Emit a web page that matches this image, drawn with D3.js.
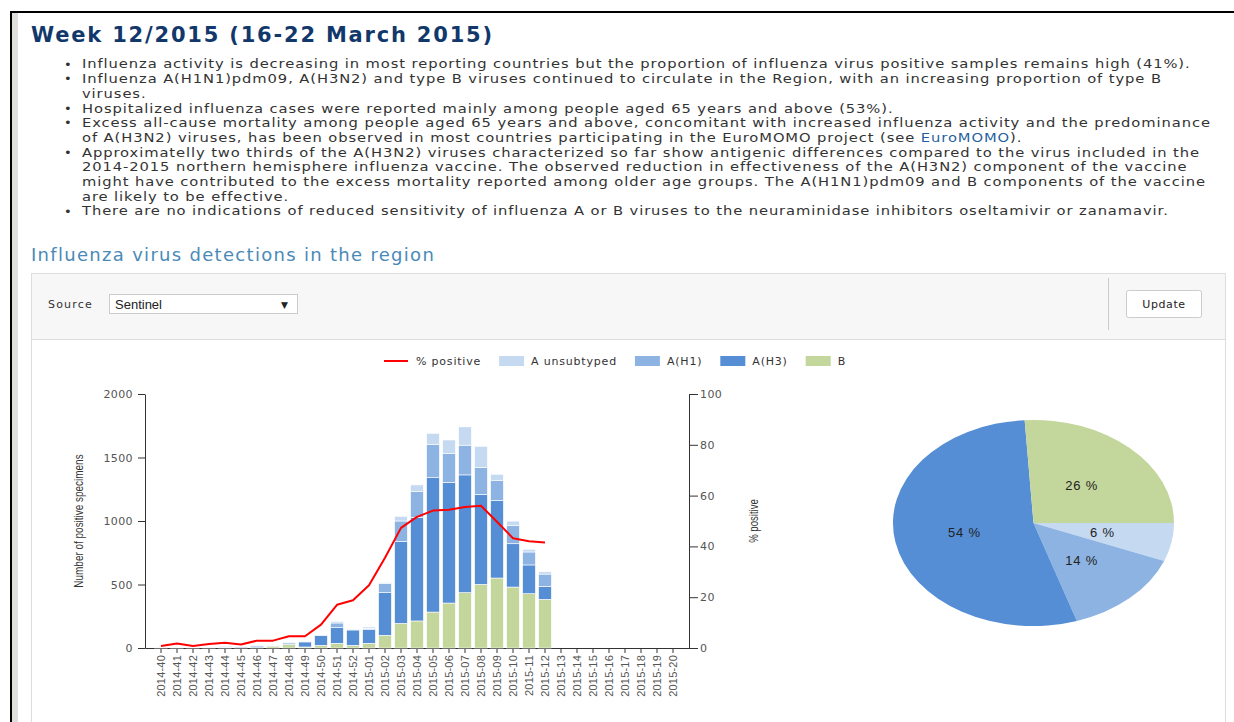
<!DOCTYPE html>
<html>
<head>
<meta charset="utf-8">
<script src="https://cdn.jsdelivr.net/npm/d3@7"></script>
<style>
  body { margin: 0; background: #fff; overflow: hidden; }
  svg { display: block; }
  .note { font-family: "DejaVu Sans", Verdana, sans-serif; font-size: 13px; fill: #333; letter-spacing: 0.8px; }
  .tick text { font-family: "DejaVu Sans", Verdana, sans-serif; font-size: 11px; fill: #555; letter-spacing: 0.4px; }
  .legend text { font-family: "DejaVu Sans", Verdana, sans-serif; font-size: 11px; fill: #333; letter-spacing: 0.8px; }
</style>
</head>
<body>
<svg id="page" width="1234" height="722"></svg>
<script>
// ---- data ----
const weeks = [
  "2014-40","2014-41","2014-42","2014-43","2014-44","2014-45","2014-46","2014-47",
  "2014-48","2014-49","2014-50","2014-51","2014-52","2015-01","2015-02","2015-03",
  "2015-04","2015-05","2015-06","2015-07","2015-08","2015-09","2015-10","2015-11",
  "2015-12","2015-13","2015-14","2015-15","2015-16","2015-17","2015-18","2015-19","2015-20"
];
const bValues     = [0,0,0,0,2,0,3,15,29,8,21,37,21,37,100,194,213,283,354,436,501,551,480,428,383];
const h3Values    = [3,2,4,4,4,8,12,3,10,40,76,123,121,108,336,646,816,1058,950,927,709,612,341,226,102];
const h1Values    = [0,0,0,0,5,1,4,5,5,3,5,37,6,10,71,160,205,262,226,234,210,158,144,102,97];
const unsubValues = [2,1,1,1,5,1,2,5,3,2,3,13,2,10,8,37,50,87,108,144,168,47,34,21,18];
const pctPositive = [0.8,1.8,0.8,1.6,2.1,1.4,2.9,2.9,4.6,4.6,9.2,17.0,18.8,24.7,35.5,47.3,51.6,54.1,54.4,55.5,56.0,49.7,43.2,42.0,41.5];
const pieShare    = [6,14,54,26];           // A unsubtyped, A(H1), A(H3), B
const leftTicks   = [0,500,1000,1500,2000];
const rightTicks  = [0,20,40,60,80,100];

const seriesKeys  = ["unsub","h1","h3","b"];
const seriesNames = ["A unsubtyped","A(H1)","A(H3)","B"];
const colors = { unsub: "#c5d9f1", h1: "#8db3e2", h3: "#558ed5", b: "#c3d69b" };

const title = "Week 12/2015 (16-22 March 2015)";
const heading = "Influenza virus detections in the region";
const noteLines = [
  { bullet: true,  text: "Influenza activity is decreasing in most reporting countries but the proportion of influenza virus positive samples remains high (41%)." },
  { bullet: true,  text: "Influenza A(H1N1)pdm09, A(H3N2) and type B viruses continued to circulate in the Region, with an increasing proportion of type B" },
  { bullet: false, text: "viruses." },
  { bullet: true,  text: "Hospitalized influenza cases were reported mainly among people aged 65 years and above (53%)." },
  { bullet: true,  text: "Excess all-cause mortality among people aged 65 years and above, concomitant with increased influenza activity and the predominance" },
  { bullet: false, text: "of A(H3N2) viruses, has been observed in most countries participating in the EuroMOMO project (see ", link: "EuroMOMO", after: ")." },
  { bullet: true,  text: "Approximatelly two thirds of the A(H3N2) viruses characterized so far show antigenic differences compared to the virus included in the" },
  { bullet: false, text: "2014-2015 northern hemisphere influenza vaccine. The observed reduction in effectiveness of the A(H3N2) component of the vaccine" },
  { bullet: false, text: "might have contributed to the excess mortality reported among older age groups. The A(H1N1)pdm09 and B components of the vaccine" },
  { bullet: false, text: "are likely to be effective." },
  { bullet: true,  text: "There are no indications of reduced sensitivity of influenza A or B viruses to the neuraminidase inhibitors oseltamivir or zanamavir." }
];

const svg = d3.select("#page");

// ---- page frame ----
svg.append("rect").attr("x", 10).attr("y", 11).attr("width", 1224).attr("height", 2).attr("fill", "#000");
svg.append("rect").attr("x", 10).attr("y", 11).attr("width", 2).attr("height", 711).attr("fill", "#000");
svg.append("rect").attr("x", 12).attr("y", 13).attr("width", 6).attr("height", 709).attr("fill", "#e0dedb");

svg.append("text")
  .attr("x", 31).attr("y", 42)
  .style("font-family", "'DejaVu Sans', Verdana, sans-serif")
  .style("font-weight", "bold").style("font-size", "21px")
  .style("letter-spacing", "1.8px")
  .attr("fill", "#12386b")
  .text(title);

// the text block is a little wider than DejaVu, so stretch it horizontally
const notes = svg.append("g");
const noteText = notes.append("g").attr("transform", "translate(82,0) scale(1.134,1)");
noteLines.forEach((d, i) => {
  const yy = 64 + i * 14.7 + 4.5;
  if (d.bullet) {
    notes.append("text").attr("class", "note").attr("x", 64).attr("y", yy).text("\u2022");
  }
  const t = noteText.append("text").attr("class", "note").attr("x", 0).attr("y", yy);
  t.append("tspan").text(d.text);
  if (d.link) {
    t.append("tspan").attr("fill", "#1f5fa0").text(d.link);
    t.append("tspan").text(d.after);
  }
});

svg.append("text")
  .attr("x", 31).attr("y", 261)
  .style("font-family", "'DejaVu Sans', Verdana, sans-serif")
  .style("font-size", "18px").style("letter-spacing", "1.3px")
  .attr("fill", "#4a8ab8")
  .text(heading);

// ---- panel and controls ----
svg.append("rect").attr("x", 31.5).attr("y", 273.5).attr("width", 1194).attr("height", 460)
  .attr("fill", "#fff").attr("stroke", "#ddd");
svg.append("rect").attr("x", 32).attr("y", 274).attr("width", 1193).attr("height", 65).attr("fill", "#f7f7f7");
svg.append("line").attr("x1", 32).attr("x2", 1225).attr("y1", 339.5).attr("y2", 339.5).attr("stroke", "#ddd");

svg.append("text").attr("x", 48).attr("y", 308)
  .style("font-family", "'DejaVu Sans', Verdana, sans-serif").style("font-size", "11px")
  .style("letter-spacing", "1.2px").attr("fill", "#333").text("Source");
svg.append("rect").attr("x", 109.5).attr("y", 294.5).attr("width", 188).attr("height", 19)
  .attr("fill", "#fff").attr("stroke", "#ccc");
svg.append("text").attr("x", 115).attr("y", 309)
  .style("font-family", "'Liberation Sans', Arial, sans-serif").style("font-size", "13px")
  .attr("fill", "#222").text("Sentinel");
svg.append("text").attr("x", 281).attr("y", 308)
  .style("font-family", "'DejaVu Sans', sans-serif").style("font-size", "9px")
  .attr("fill", "#222").text("\u25BC");
svg.append("line").attr("x1", 1108.5).attr("x2", 1108.5).attr("y1", 278).attr("y2", 330).attr("stroke", "#ccc");
svg.append("rect").attr("x", 1126.5).attr("y", 290.5).attr("width", 75).attr("height", 27).attr("rx", 2)
  .attr("fill", "#fff").attr("stroke", "#ccc");
svg.append("text").attr("x", 1164).attr("y", 308).attr("text-anchor", "middle")
  .style("font-family", "'DejaVu Sans', Verdana, sans-serif").style("font-size", "11px")
  .style("letter-spacing", "0.6px").attr("fill", "#222").text("Update");

// ---- bar / line chart ----
const x = d3.scaleBand().domain(weeks).range([145, 689]).paddingInner(0.2).paddingOuter(0.6);
const y = d3.scaleLinear().domain([0, 2000]).range([648, 394]);
const yPct = d3.scaleLinear().domain([0, 100]).range([648, 394]);

const rows = weeks.map((w, i) => ({
  week: w,
  b: bValues[i] || 0,
  h3: h3Values[i] || 0,
  h1: h1Values[i] || 0,
  unsub: unsubValues[i] || 0
}));
const stacked = d3.stack().keys(["b", "h3", "h1", "unsub"])(rows);

const chart = svg.append("g");

chart.append("g")
  .attr("transform", "translate(145,0)")
  .call(d3.axisLeft(y).tickValues(leftTicks).tickFormat(d3.format("d"))
    .tickSize(7).tickPadding(5).tickSizeOuter(0))
  .call(g => g.selectAll("path, line").attr("stroke", "#333"));

chart.append("g")
  .attr("transform", "translate(689,0)")
  .call(d3.axisRight(yPct).tickValues(rightTicks).tickSize(9).tickPadding(2).tickSizeOuter(0))
  .call(g => g.selectAll("path, line").attr("stroke", "#333"));

const xAxis = chart.append("g")
  .attr("transform", "translate(0,648)")
  .call(d3.axisBottom(x).tickSize(5).tickSizeOuter(0));
xAxis.selectAll("path, line").attr("stroke", "#333");
xAxis.selectAll("text")
  .style("font-family", "'Liberation Sans', Arial, sans-serif")
  .style("font-size", "11px").style("letter-spacing", "0.2px").attr("fill", "#444")
  .attr("text-anchor", "end")
  .attr("transform", "rotate(-90)")
  .attr("x", -7).attr("y", 0).attr("dy", "0.35em");

chart.append("g")
  .selectAll("g")
  .data(stacked)
  .join("g")
  .attr("fill", d => colors[d.key])
  .selectAll("rect")
  .data(d => d.filter(s => s[1] > s[0]))
  .join("rect")
  .attr("x", d => x(d.data.week))
  .attr("width", x.bandwidth())
  .attr("y", d => y(d[1]))
  .attr("height", d => y(d[0]) - y(d[1]))
  .attr("stroke", "#fff").attr("stroke-width", 0.6);

const line = d3.line()
  .x((d, i) => x(weeks[i]) + x.bandwidth() / 2)
  .y(d => yPct(d));
chart.append("path")
  .datum(pctPositive)
  .attr("d", line)
  .attr("fill", "none").attr("stroke", "#ff0000").attr("stroke-width", 2)
  .attr("stroke-linejoin", "round");

// axis titles use a condensed face in the original; squeeze Liberation Sans
chart.append("text")
  .attr("transform", "translate(79,521) rotate(-90) scale(0.83,1)")
  .attr("text-anchor", "middle").attr("dy", "0.35em")
  .style("font-family", "'Liberation Sans', Arial, sans-serif")
  .style("font-size", "12px").attr("fill", "#333")
  .text("Number of positive specimens");
chart.append("text")
  .attr("transform", "translate(754,521) rotate(-90) scale(0.8,1)")
  .attr("text-anchor", "middle").attr("dy", "0.35em")
  .style("font-family", "'Liberation Sans', Arial, sans-serif")
  .style("font-size", "12px").attr("fill", "#333")
  .text("% positive");

// ---- legend ----
const legend = svg.append("g").attr("class", "legend");
let lx = 384;
const legendItems = [{ key: "line", name: "% positive" }].concat(
  seriesKeys.map((k, i) => ({ key: k, name: seriesNames[i] })));
legendItems.forEach(item => {
  if (item.key === "line") {
    legend.append("line").attr("x1", lx).attr("x2", lx + 24).attr("y1", 361).attr("y2", 361)
      .attr("stroke", "#ff0000").attr("stroke-width", 2);
  } else {
    legend.append("rect").attr("x", lx).attr("y", 356).attr("width", 25).attr("height", 10)
      .attr("fill", colors[item.key]);
  }
  const t = legend.append("text").attr("x", lx + 32).attr("y", 365).text(item.name);
  lx += 32 + t.node().getComputedTextLength() + 18;
});

// ---- pie (drawn as an ellipse) ----
const pcx = 1033.5, pcy = 523, rx = 140.5, ry = 103;
const pie = d3.pie().sort(null).startAngle(Math.PI / 2).endAngle(Math.PI / 2 + 2 * Math.PI);
const arcs = pie(pieShare);
const arc = d3.arc().innerRadius(0).outerRadius(1);
const pieG = svg.append("g").attr("transform", `translate(${pcx},${pcy}) scale(${rx},${ry})`);
pieG.selectAll("path")
  .data(arcs)
  .join("path")
  .attr("d", arc)
  .attr("fill", (d, i) => colors[seriesKeys[i]]);

svg.append("g")
  .selectAll("text")
  .data(arcs)
  .join("text")
  .attr("x", d => pcx + 0.5 * rx * Math.sin((d.startAngle + d.endAngle) / 2))
  .attr("y", d => pcy - 0.5 * ry * Math.cos((d.startAngle + d.endAngle) / 2))
  .attr("text-anchor", "middle").attr("dy", "0.35em")
  .style("font-family", "'Liberation Sans', Arial, sans-serif")
  .style("font-size", "13px").style("letter-spacing", "0.8px")
  .attr("fill", "#222")
  .text(d => d.data + " %");
</script>
</body>
</html>
